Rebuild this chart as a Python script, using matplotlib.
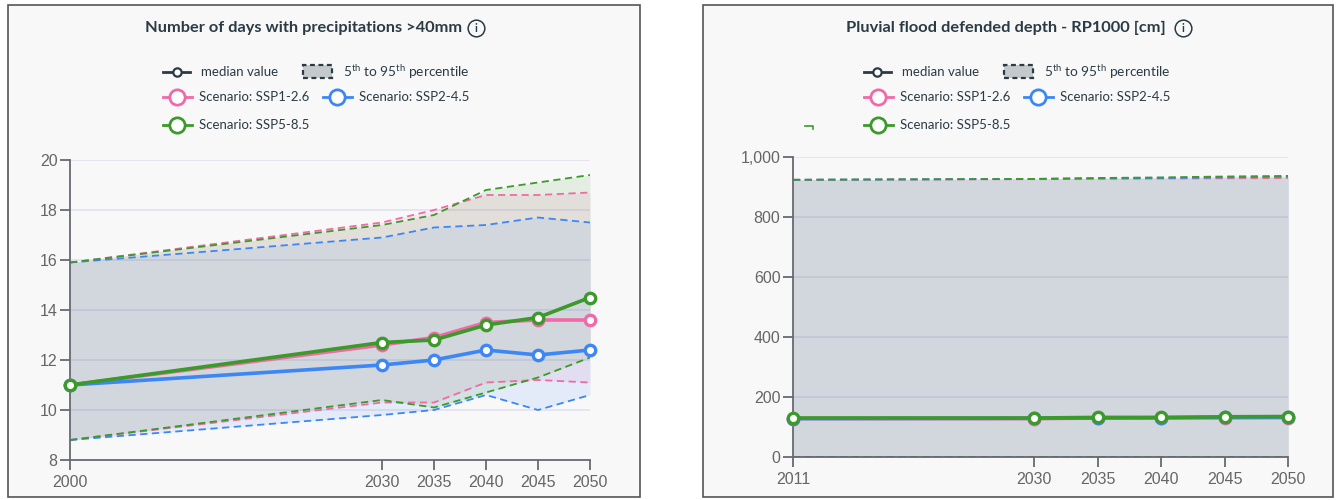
import matplotlib
matplotlib.use("Agg")
import matplotlib.pyplot as plt
import numpy as np
from matplotlib.lines import Line2D
from matplotlib.patches import Rectangle
from matplotlib.ticker import FuncFormatter

# ---------------- data ----------------
years_a = [2000, 2030, 2035, 2040, 2045, 2050]
a_med_ssp1 = [11.0, 12.6, 12.9, 13.5, 13.6, 13.6]
a_med_ssp2 = [11.0, 11.8, 12.0, 12.4, 12.2, 12.4]
a_med_ssp5 = [11.0, 12.7, 12.8, 13.4, 13.7, 14.5]
a_hi_ssp1 = [15.9, 17.5, 18.0, 18.6, 18.6, 18.7]
a_hi_ssp2 = [15.9, 16.9, 17.3, 17.4, 17.7, 17.5]
a_hi_ssp5 = [15.9, 17.4, 17.8, 18.8, 19.1, 19.4]
a_lo_ssp1 = [8.8, 10.3, 10.3, 11.1, 11.2, 11.1]
a_lo_ssp2 = [8.8, 9.8, 10.0, 10.6, 10.0, 10.6]
a_lo_ssp5 = [8.8, 10.4, 10.1, 10.7, 11.3, 12.1]

years_b = [2011, 2030, 2035, 2040, 2045, 2050]
b_med_ssp1 = [128, 128, 130, 130, 131, 131]
b_med_ssp2 = [128, 129, 130, 131, 132, 133]
b_med_ssp5 = [130, 130, 132, 132, 134, 135]
b_hi_ssp1 = [924, 926, 927, 928, 929, 930]
b_hi_ssp2 = [924, 927, 929, 930, 932, 934]
b_hi_ssp5 = [924, 927, 930, 932, 935, 937]
b_lo_ssp1 = [1, 1, 1, 1, 1, 1]
b_lo_ssp2 = [1, 1, 1, 1, 1, 1]
b_lo_ssp5 = [1, 1, 1, 1, 1, 1]

title_a = "Number of days with precipitations >40mm"
title_b = "Pluvial flood defended depth - RP1000 [cm]"
scen_names = ["Scenario: SSP1-2.6", "Scenario: SSP2-4.5", "Scenario: SSP5-8.5"]

# ---------------- style ----------------
PINK = "#f06aa8"
BLUE = "#3d87f5"
GREEN = "#3b9a2a"
DARK = "#2b3b44"
PANEL_BG = "#f8f8f9"
GREY_FILL = "#d2d6dd"
TICK_COL = "#666666"
UI_FONT = ["Lato", "DejaVu Sans"]
TICK_FONT = ["Liberation Sans", "DejaVu Sans"]

plt.rcParams["mathtext.fontset"] = "custom"
plt.rcParams["mathtext.rm"] = "Lato"

W, H = 1338, 500
fig = plt.figure(figsize=(W / 100, H / 100), dpi=100)
fig.patch.set_facecolor("white")


def fx(px):
    return px / W


def fy(py):
    return 1 - py / H


def panel(x0, x1, y0, y1):
    r = Rectangle((fx(x0), fy(y1)), fx(x1) - fx(x0), fy(y0) - fy(y1),
                  transform=fig.transFigure, facecolor=PANEL_BG,
                  edgecolor="#555555", lw=1.2, zorder=0)
    fig.add_artist(r)


def header(off, title, tcenter, icon_x):
    fig.text(fx(tcenter + off), fy(28), title, ha="center", va="center",
             fontsize=11.8, fontweight="bold", color=DARK, family=UI_FONT)
    fig.add_artist(Line2D([fx(icon_x + off)], [fy(28)], marker="o", ms=12,
                          mfc="none", mec=DARK, mew=1.1,
                          transform=fig.transFigure))
    fig.text(fx(icon_x + off), fy(28.5), "i", ha="center", va="center",
             fontsize=8, color=DARK, family=UI_FONT, fontweight="bold")
    # legend row 1
    fig.add_artist(Line2D([fx(163 + off), fx(190 + off)], [fy(72), fy(72)],
                          color=DARK, lw=2, transform=fig.transFigure))
    fig.add_artist(Line2D([fx(176.5 + off)], [fy(72)], marker="o", ms=6,
                          mfc="white", mec=DARK, mew=1.6,
                          transform=fig.transFigure))
    fig.text(fx(201 + off), fy(72), "median value", ha="left", va="center",
             fontsize=9.5, color=DARK, family=UI_FONT)
    fig.add_artist(Rectangle((fx(303 + off), fy(78)), fx(29), fy(0) - fy(13),
                             transform=fig.transFigure, facecolor="#c4c9cc",
                             edgecolor=DARK, lw=1.6, ls=(0, (2.2, 1.6))))
    fig.text(fx(343 + off), fy(72),
             r"5$^{\mathrm{th}}$ to 95$^{\mathrm{th}}$ percentile",
             ha="left", va="center", fontsize=9.8, color=DARK, family=UI_FONT)
    # legend scenario rows
    items = [(163, 97, PINK, scen_names[0]), (323, 97, BLUE, scen_names[1]),
             (163, 125, GREEN, scen_names[2])]
    for x, y, c, name in items:
        fig.add_artist(Line2D([fx(x + off), fx(x + 29 + off)], [fy(y), fy(y)],
                              color=c, lw=2, transform=fig.transFigure))
        fig.add_artist(Line2D([fx(x + 14 + off)], [fy(y)], marker="o", ms=11,
                              mfc="white", mec=c, mew=2,
                              transform=fig.transFigure))
        fig.text(fx(x + 36 + off), fy(y), name, ha="left", va="center",
                 fontsize=9.5, color=DARK, family=UI_FONT)


def draw_chart(ax, years, meds, his, los, colors, ylim, yticks, fmt):
    ax.set_facecolor(PANEL_BG)
    years = np.array(years)
    for hi, lo, c in zip(his, los, colors):
        ax.fill_between(years, lo, hi, color=c, alpha=0.11, lw=0, zorder=1)
    inter_lo = np.max(np.array(los), axis=0)
    inter_hi = np.min(np.array(his), axis=0)
    ax.fill_between(years, inter_lo, inter_hi, color=GREY_FILL, lw=0, zorder=1.5)
    for yv in yticks[1:]:
        ax.axhline(yv, color=(0.45, 0.48, 0.75, 0.18), lw=1.2, zorder=2)
    for hi, lo, c in zip(his, los, colors):
        ax.plot(years, hi, color=c, lw=1.3, ls=(0, (4, 2.5)), zorder=3)
        ax.plot(years, lo, color=c, lw=1.3, ls=(0, (4, 2.5)), zorder=3)
    for i in [1, 0, 2]:
        ax.plot(years, meds[i], color=colors[i], lw=2.6, marker="o", ms=7.5,
                mfc="white", mec=colors[i], mew=2.4, zorder=7 + i * 0.1,
                clip_on=False)
    ax.set_xlim(years[0], years[-1])
    ax.set_ylim(*ylim)
    ax.set_xticks(years)
    ax.set_yticks(yticks)
    ax.yaxis.set_major_formatter(FuncFormatter(fmt))
    for s in ["top", "right"]:
        ax.spines[s].set_visible(False)
    for s in ["left", "bottom"]:
        ax.spines[s].set_color("#666a70")
        ax.spines[s].set_linewidth(1.3)
        ax.spines[s].set_zorder(6)
    ax.tick_params(axis="both", colors="#666a70", labelcolor=TICK_COL,
                   length=7, width=1.3, labelsize=11.5)
    ax.tick_params(axis="y", pad=2)
    ax.tick_params(axis="x", pad=4)
    for lab in ax.get_xticklabels() + ax.get_yticklabels():
        lab.set_family(TICK_FONT)


panel(8, 640, 5, 497)
panel(703, 1333, 5, 497)
header(0, title_a, 304, 476)
header(701, title_b, 305, 482)

colors = [PINK, BLUE, GREEN]
ax1 = fig.add_axes([fx(70), fy(460), fx(590) - fx(70), fy(160) - fy(460)])
draw_chart(ax1, years_a, [a_med_ssp1, a_med_ssp2, a_med_ssp5],
           [a_hi_ssp1, a_hi_ssp2, a_hi_ssp5],
           [a_lo_ssp1, a_lo_ssp2, a_lo_ssp5], colors, (8, 20),
           [8, 10, 12, 14, 16, 18, 20], lambda v, p: f"{v:.0f}")

ax2 = fig.add_axes([fx(793), fy(457), fx(1288) - fx(793), fy(157) - fy(457)])
draw_chart(ax2, years_b, [b_med_ssp1, b_med_ssp2, b_med_ssp5],
           [b_hi_ssp1, b_hi_ssp2, b_hi_ssp5],
           [b_lo_ssp1, b_lo_ssp2, b_lo_ssp5], colors, (0, 1000),
           [0, 200, 400, 600, 800, 1000], lambda v, p: f"{v:,.0f}")

# small stray mark in the reference
fig.add_artist(Line2D([fx(805), fx(813), fx(813)], [fy(126), fy(126), fy(129)],
                      color=GREEN, lw=1.2, transform=fig.transFigure))

fig.savefig("out.png", dpi=100, facecolor="white")
